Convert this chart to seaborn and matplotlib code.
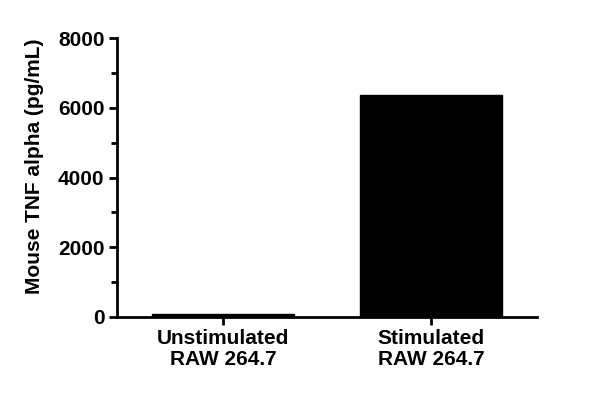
import matplotlib
matplotlib.use("Agg")
import matplotlib.pyplot as plt
import seaborn as sns
from matplotlib.ticker import MultipleLocator

groups = ["Unstimulated\nRAW 264.7", "Stimulated\nRAW 264.7"]
tnf = [80, 6360]

sns.set_style("ticks")
plt.rcParams['font.family'] = ['Liberation Sans', 'DejaVu Sans']
plt.rcParams['font.weight'] = 'bold'
plt.rcParams['text.color'] = 'black'
plt.rcParams['axes.labelcolor'] = 'black'
plt.rcParams['xtick.color'] = 'black'
plt.rcParams['ytick.color'] = 'black'
plt.rcParams['axes.edgecolor'] = 'black'

fig = plt.figure(figsize=(6, 4.05), dpi=100)
ax = fig.add_axes([117/600, 1 - 317/405, 420/600, 279/405])

sns.barplot(x=groups, y=tnf, color="black", width=0.68, ax=ax,
            saturation=1, edgecolor="black")

ax.set_xlim(-0.51, 1.51)
ax.set_ylim(0, 8000)
ax.yaxis.set_major_locator(MultipleLocator(2000))
ax.yaxis.set_minor_locator(MultipleLocator(1000))
ax.set_ylabel("Mouse TNF alpha (pg/mL)", fontsize=15, fontweight='bold', labelpad=10)
ax.yaxis.label.set_y(0.54)
ax.tick_params(axis='both', which='major', width=2, length=6, labelsize=15, pad=3)
ax.tick_params(axis='y', which='minor', width=2, length=4)
for lab in ax.get_xticklabels() + ax.get_yticklabels():
    lab.set_fontweight('bold')
    lab.set_linespacing(1.1)
sns.despine(ax=ax)
for s in ['left', 'bottom']:
    ax.spines[s].set_linewidth(2)

fig.savefig("out.png", dpi=100)
